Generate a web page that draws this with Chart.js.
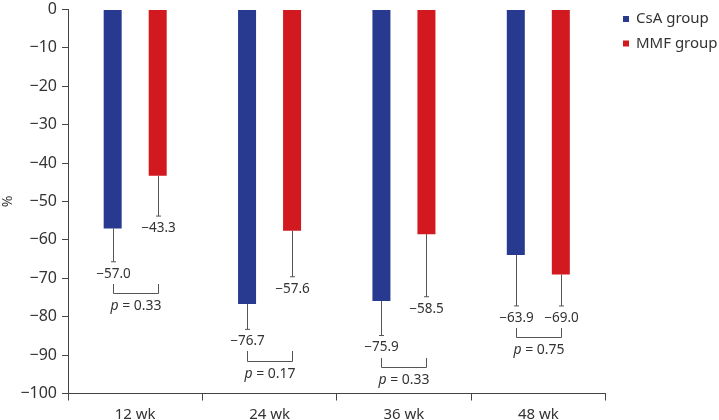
<!DOCTYPE html>
<html>
<head>
<meta charset="utf-8">
<script src="https://cdn.jsdelivr.net/npm/chart.js@4.4.1/dist/chart.umd.min.js"></script>
<style>
  html, body { margin: 0; padding: 0; background: #fff; }
  #wrap { width: 719px; height: 420px; position: relative; }
</style>
</head>
<body>
<div id="wrap"><canvas id="c" width="719" height="420"></canvas></div>
<script>
const categories = ['12 wk', '24 wk', '36 wk', '48 wk'];
const seriesNames = ['CsA group', 'MMF group'];
const csaValues = [-57.0, -76.7, -75.9, -63.9];
const mmfValues = [-43.3, -57.6, -58.5, -69.0];
const csaSD = [8.7, 6.6, 9.0, 13.3];
const mmfSD = [10.5, 12.0, 16.3, 8.2];
const pValues = ['0.33', '0.17', '0.33', '0.75'];
const yMin = -100, yMax = 0, yStep = 10;

const blue = '#283a8f';
const red = '#d2191f';
const textColor = '#333333';
const lineColor = '#555555';
const FONT = '"Noto Sans", "DejaVu Sans", sans-serif';

function fmt(v) {
  return (v < 0 ? '\u2212' : '') + Math.abs(v).toFixed(1);
}

const annotPlugin = {
  id: 'annot',
  afterDatasetsDraw(chart) {
    const ctx = chart.ctx;
    const y = chart.scales.y;
    const m0 = chart.getDatasetMeta(0), m1 = chart.getDatasetMeta(1);
    const sds = [csaSD, mmfSD];
    const vals = [csaValues, mmfValues];
    ctx.save();
    for (let i = 0; i < categories.length; i++) {
      const bars = [m0.data[i], m1.data[i]];
      let maxLabelY = 0;
      const xs = [];
      for (let s = 0; s < 2; s++) {
        const b = bars[s];
        const x = Math.round(b.x) + 0.5;
        xs.push(x);
        const yEnd = y.getPixelForValue(vals[s][i] - sds[s][i]);
        ctx.strokeStyle = lineColor;
        ctx.lineWidth = 1;
        ctx.beginPath();
        ctx.moveTo(x, b.y);
        ctx.lineTo(x, yEnd);
        ctx.moveTo(x - 2.5, yEnd);
        ctx.lineTo(x + 2.5, yEnd);
        ctx.stroke();
        const ly = yEnd + 12;
        ctx.fillStyle = textColor;
        ctx.font = '13.5px ' + FONT;
        ctx.textAlign = 'center';
        ctx.textBaseline = 'middle';
        ctx.fillText(fmt(vals[s][i]), x, ly);
        maxLabelY = Math.max(maxLabelY, ly);
      }
      const top = Math.round(maxLabelY + 10);
      const bot = Math.round(maxLabelY + 19.5) + 0.5;
      ctx.strokeStyle = lineColor;
      ctx.lineWidth = 1;
      ctx.beginPath();
      ctx.moveTo(xs[0], top);
      ctx.lineTo(xs[0], bot);
      ctx.lineTo(xs[1], bot);
      ctx.lineTo(xs[1], top);
      ctx.stroke();
      const py = maxLabelY + 32.5;
      const cx = (xs[0] + xs[1]) / 2;
      ctx.font = 'italic 14px ' + FONT;
      const pW = ctx.measureText('p').width;
      ctx.font = '14px ' + FONT;
      const restTxt = ' = ' + pValues[i];
      const rW = ctx.measureText(restTxt).width;
      const start = cx - (pW + rW) / 2;
      ctx.textAlign = 'left';
      ctx.textBaseline = 'middle';
      ctx.fillStyle = textColor;
      ctx.font = 'italic 14px ' + FONT;
      ctx.fillText('p', start, py);
      ctx.font = '14px ' + FONT;
      ctx.fillText(restTxt, start + pW, py);
    }
    const colors = [blue, red];
    ctx.font = '15px ' + FONT;
    ctx.textAlign = 'left';
    ctx.textBaseline = 'middle';
    for (let s = 0; s < seriesNames.length; s++) {
      const ly = 19 + s * 24.5;
      ctx.fillStyle = colors[s];
      ctx.fillRect(623, ly - 3, 6, 6);
      ctx.fillStyle = textColor;
      ctx.fillText(seriesNames[s], 636, ly);
    }
    ctx.restore();
  }
};

new Chart(document.getElementById('c'), {
  type: 'bar',
  data: {
    labels: categories,
    datasets: [
      { label: seriesNames[0], data: csaValues, backgroundColor: blue, borderWidth: 0,
        categoryPercentage: 0.67, barPercentage: 0.4 },
      { label: seriesNames[1], data: mmfValues, backgroundColor: red, borderWidth: 0,
        categoryPercentage: 0.67, barPercentage: 0.4 }
    ]
  },
  options: {
    responsive: false,
    animation: false,
    devicePixelRatio: 1,
    layout: { padding: { top: 9.5, right: 113.5, left: 0, bottom: 0 } },
    plugins: { legend: { display: false }, tooltip: { enabled: false } },
    scales: {
      x: {
        grid: { offset: true, drawOnChartArea: false, tickLength: 7, color: '#444' },
        border: { display: true, color: '#444', width: 1 },
        ticks: { color: textColor, font: { family: FONT, size: 15 }, padding: 5 },
        afterFit(scale) { scale.height = 26.5; scale.paddingLeft = 0; scale.paddingRight = 0; }
      },
      y: {
        min: yMin, max: yMax,
        grid: { drawOnChartArea: false, tickLength: 6, color: '#444' },
        border: { display: true, color: '#444', width: 1 },
        ticks: {
          stepSize: yStep, color: textColor, font: { family: FONT, size: 16 }, padding: 5,
          callback: (v) => (v < 0 ? '\u2212' + Math.abs(v) : String(v))
        },
        title: { display: true, text: '%', color: textColor, font: { family: FONT, size: 14 }, padding: 0 },
        afterFit(scale) { scale.width = 68; scale.paddingTop = 0; scale.paddingBottom = 0; }
      }
    }
  },
  plugins: [annotPlugin]
});
</script>
</body>
</html>
